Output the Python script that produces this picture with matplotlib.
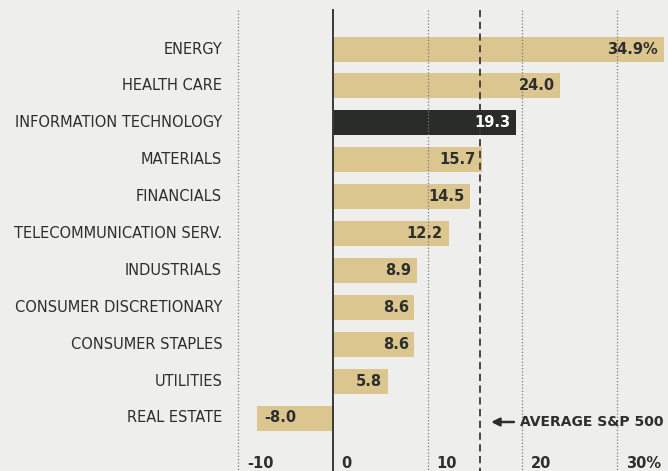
import matplotlib.pyplot as plt
import numpy as np

sectors = ['ENERGY', 'HEALTH CARE', 'INFORMATION TECHNOLOGY', 'MATERIALS',
           'FINANCIALS', 'TELECOMMUNICATION SERV.', 'INDUSTRIALS',
           'CONSUMER DISCRETIONARY', 'CONSUMER STAPLES', 'UTILITIES',
           'REAL ESTATE']
returns = [34.9, 24.0, 19.3, 15.7, 14.5, 12.2, 8.9, 8.6, 8.6, 5.8, -8.0]
value_labels = ['34.9%', '24.0', '19.3', '15.7', '14.5', '12.2', '8.9',
                '8.6', '8.6', '5.8', '-8.0']
highlight = 'INFORMATION TECHNOLOGY'
sp500_avg = 15.5
xticks = [-10, 0, 10, 20, 30]
xtick_labels = ['-10', '0', '10', '20', '30%']

BG = '#eeeeec'
TAN = '#dcc690'
DARK = '#2a2d27'
TEXT = '#2e2e2c'
COND = 'DejaVu Sans Condensed'

fig = plt.figure(figsize=(6.68, 4.71), dpi=100, facecolor=BG)
ax = fig.add_axes([0.0, 0.0, 1.0, 1.0])
ax.set_facecolor(BG)

# data x limits chosen so that 0 sits at ~333px and the scale is ~9.5px/unit
px_per_unit = 9.47
x0_px = 333
ax.set_xlim(-x0_px / px_per_unit, (668 - x0_px) / px_per_unit)
ax.set_ylim(471, 0)  # y in pixel-like rows from the top

ypos = 49 + 36.9 * np.arange(len(sectors))
colors = [DARK if s == highlight else TAN for s in sectors]
ax.barh(ypos, returns, height=25, color=colors, zorder=2)

# dotted grid lines at the tick positions, solid zero line
for t in xticks:
    if t == 0:
        ax.plot([0, 0], [10, 471], color='#3a3a38', lw=1.4, zorder=3)
    else:
        ax.plot([t, t], [10, 471], color='#7a7a78', lw=0.9, ls=(0, (1, 1.6)), zorder=3)

# S&P 500 average
ax.plot([sp500_avg, sp500_avg], [10, 471], color='#3a3a38', lw=1.3,
        ls=(0, (4, 2.5)), zorder=4)
ax.annotate('', xy=(sp500_avg + 0.9, 422), xytext=(sp500_avg + 3.9, 422),
            arrowprops=dict(arrowstyle='-|>', color=TEXT, lw=1.8,
                            mutation_scale=12), zorder=5)
ax.text(sp500_avg + 4.2, 422, 'AVERAGE S&P 500', family=COND, weight='bold',
        fontsize=10, color=TEXT, va='center', ha='left', zorder=5)

# category labels
for y, s in zip(ypos, sectors):
    ax.text(-11.7, y, s, family=COND, fontsize=10.5,
            color=TEXT, ha='right', va='center')

# value labels inside bar ends
for y, v, lab, c in zip(ypos, returns, value_labels, colors):
    txt_color = 'white' if c == DARK else TEXT
    if v >= 0:
        ax.text(v - 0.6, y, lab, family=COND, weight='bold', fontsize=10.5,
                color=txt_color, ha='right', va='center', zorder=5)
    else:
        ax.text(v + 0.7, y, lab, family=COND, weight='bold', fontsize=10.5,
                color=txt_color, ha='left', va='center', zorder=5)

# tick labels along the bottom
for t, lab in zip(xticks, xtick_labels):
    ax.text(t + 0.9, 463, lab, family=COND, weight='bold', fontsize=10.5,
            color=TEXT, ha='left', va='center')

ax.axis('off')
fig.savefig('out.png', dpi=100, facecolor=BG)
